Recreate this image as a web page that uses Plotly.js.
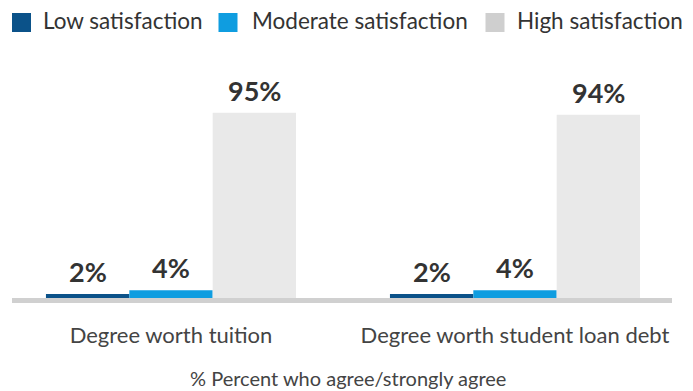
<!DOCTYPE html>
<html>
<head>
<meta charset="utf-8">
<script src="https://cdn.plot.ly/plotly-3.0.1.min.js"></script>
<style>html,body{margin:0;padding:0;background:#fff}#chart{width:693px;height:391px}</style>
</head>
<body>
<div id="chart"></div>
<script>
const categories = ["Degree worth tuition", "Degree worth student loan debt"];
const seriesNames = ["Low satisfaction", "Moderate satisfaction", "High satisfaction"];
const lowValues = [2, 2];
const moderateValues = [4, 4];
const highValues = [95, 94];
const axisTitle = "% Percent who agree/strongly agree";

const barColors = ["#0b5289", "#0f9de0", "#e9e9e9"];
const legendColors = ["#0b5289", "#0f9de0", "#cfcfcf"];
const fontFamily = "Lato, 'Open Sans', sans-serif";

// layout geometry (pixels)
const plotLeft = 12, plotRight = 672, plotTop = 103, plotBottom = 298;
const plotW = plotRight - plotLeft;
const legendSquareX = [12, 218.5, 485.5];
const legendTextX = [40.5, 250, 515];
const groupOffsetPx = [-83.3, 0, 83.3];

const seriesValues = [lowValues, moderateValues, highValues];
const traces = seriesValues.map((vals, i) => ({
  type: "bar",
  x: categories,
  y: vals,
  name: seriesNames[i],
  showlegend: false,
  marker: {color: barColors[i], line: {width: 0}},
  hoverinfo: "skip"
}));

const annotations = [];
seriesValues.forEach((vals, i) => {
  vals.forEach((v, j) => {
    annotations.push({
      x: categories[j], y: v, xref: "x", yref: "y",
      xshift: groupOffsetPx[i], yshift: 4,
      xanchor: "center", yanchor: "bottom",
      text: v + "%", showarrow: false,
      font: {family: fontFamily, size: 27, color: "#333333", weight: 700}
    });
  });
});
// manual legend
const shapes = [{
  type: "rect", xref: "paper", yref: "paper", x0: 0, x1: 1,
  ysizemode: "pixel", yanchor: 0, y0: -5, y1: 0,
  fillcolor: "#d0d0d0", line: {width: 0}, layer: "below"
}];
seriesNames.forEach((n, i) => {
  shapes.push({
    type: "rect", xref: "paper", yref: "paper",
    xsizemode: "pixel", xanchor: 0,
    x0: legendSquareX[i] - plotLeft, x1: legendSquareX[i] - plotLeft + 19,
    ysizemode: "pixel", yanchor: 1,
    y0: plotTop - 32, y1: plotTop - 13,
    fillcolor: legendColors[i], line: {width: 0}
  });
  annotations.push({
    xref: "paper", yref: "paper",
    x: (legendTextX[i] - plotLeft) / plotW, y: 1,
    xanchor: "left", yanchor: "middle", yshift: plotTop - 20.5,
    text: n, showarrow: false,
    font: {family: fontFamily, size: 22.5, color: "#333333"}
  });
});
annotations.push({
  xref: "paper", yref: "paper",
  x: (348 - plotLeft) / plotW, y: 0,
  xanchor: "center", yanchor: "middle", yshift: -(378 - plotBottom),
  text: axisTitle, showarrow: false,
  font: {family: fontFamily, size: 20, color: "#444444"}
});

const layout = {
  width: 693, height: 391,
  margin: {l: plotLeft, r: 693 - plotRight, t: plotTop, b: 391 - plotBottom},
  paper_bgcolor: "#ffffff", plot_bgcolor: "#ffffff",
  barmode: "group", bargap: 0.273, bargroupgap: 0,
  showlegend: false,
  xaxis: {
    type: "category", range: [-0.4622, 1.4564],
    showgrid: false, zeroline: false, showline: false,
    ticks: "", tickfont: {family: fontFamily, size: 22, color: "#444444"},
    ticklabelstandoff: 22
  },
  yaxis: {range: [0, 100], visible: false, fixedrange: true},
  shapes: shapes,
  annotations: annotations
};

Plotly.newPlot("chart", traces, layout, {displayModeBar: false, staticPlot: true});
</script>
</body>
</html>
